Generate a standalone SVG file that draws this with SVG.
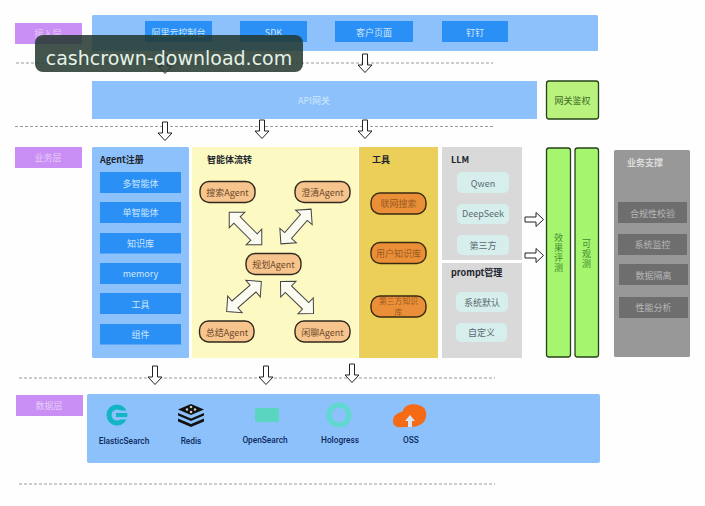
<svg xmlns="http://www.w3.org/2000/svg" width="705" height="506" viewBox="0 0 705 506">
<style>
text{font-family:"Noto Sans CJK SC","Noto Sans",sans-serif;font-size:9px;text-anchor:middle}
.panel{fill:#8cc1fb}
.btn{fill:#2a90f6}
.wt{fill:#cfe6fb}
.lay{fill:#c98ff5}
.layt{fill:#e6cdf8}
.dash{stroke:#9a9a9a;stroke-width:1;stroke-dasharray:3 2;fill:none}
.pill{fill:#f8c48e;stroke:#2e2a1e;stroke-width:1.4}
.pillt{fill:#6b4a2a}
.tool{fill:#ea8f38;stroke:#3a2a10;stroke-width:1.4}
.toolt{fill:#9a5a22}
.gray{fill:#d9d9d9}
.soft{fill:#d6efec}
.softt{fill:#5a6a70}
.grn{fill:#a6f56e;stroke:#26401a;stroke-width:1.3}
.grnt{fill:#3f8a2e;writing-mode:vertical-rl;letter-spacing:1px}
.dk{fill:#6e6e6e}
.dkt{fill:#b8b8b8}
.bold{font-weight:700;fill:#20242c;text-anchor:start}
.db{font-weight:500;font-size:8.300px;fill:#0c2a5c;font-family:Roboto,"Noto Sans",sans-serif}
.ar{fill:#fff;stroke:#222;stroke-width:1}
.dbl{fill:#fbfbf2;stroke:#444;stroke-width:1}
</style>
<defs>
<path id="down" d="M-2.5 0H2.500V11H7L0 18.500L-7 11H-2.500Z"/>
<path id="both" d="M-23 0L-12 -11V-4.500H12V-11L23 0L12 11V4.500H-12V11Z"/>
</defs>
<rect width="705" height="506" fill="#fefefe"/>

<g id="layer-access">
<rect class="lay" x="15" y="23" width="67" height="21"/>
<text class="layt" x="48" y="37">接入层</text>
</g>
<g id="access">
<rect class="panel" x="92" y="15" width="506" height="36" rx="1.500"/>
<g id="console"><rect class="btn" x="145" y="21" width="67" height="21"/><text class="wt" x="178.500" y="36">阿里云控制台</text></g>
<g id="sdk"><rect class="btn" x="240" y="21" width="67" height="21"/><text class="wt" x="273.500" y="36">SDK</text></g>
<g id="customer"><rect class="btn" x="335" y="21" width="78" height="21"/><text class="wt" x="374" y="36">客户页面</text></g>
<g id="dingtalk"><rect class="btn" x="442" y="21" width="66" height="21"/><text class="wt" x="475" y="36">钉钉</text></g>
</g>
<g id="gateway">
<rect class="panel" x="92" y="81" width="445" height="38"/>
<text class="wt" x="314" y="104">API网关</text>
</g>
<g id="auth">
<rect x="546.500" y="81" width="52" height="38" rx="2.500" fill="#b9f27c" stroke="#26401a" stroke-width="1.300"/>
<text x="572.500" y="104" fill="#3f6a2a">网关鉴权</text>
</g>

<g id="layer-business">
<rect class="lay" x="15" y="147" width="67" height="21"/>
<text class="layt" x="48" y="161">业务层</text>
</g>
<g id="agent-registry">
<rect class="panel" x="92" y="147" width="97" height="211" rx="1.500"/>
<text class="bold" x="100" y="163">Agent注册</text>
<g id="r1"><rect class="btn" x="100" y="172" width="81" height="21"/><text class="wt" x="140.500" y="187">多智能体</text></g>
<g id="r2"><rect class="btn" x="100" y="202" width="81" height="21"/><text class="wt" x="140.500" y="216">单智能体</text></g>
<g id="r3"><rect class="btn" x="100" y="233" width="81" height="20.500"/><text class="wt" x="140.500" y="247">知识库</text></g>
<g id="r4"><rect class="btn" x="100" y="263" width="81" height="21"/><text class="wt" x="140.500" y="277">memory</text></g>
<g id="r5"><rect class="btn" x="100" y="293" width="81" height="21"/><text class="wt" x="140.500" y="308">工具</text></g>
<g id="r6"><rect class="btn" x="100" y="324" width="81" height="20.500"/><text class="wt" x="140.500" y="338">组件</text></g>
</g>
<g id="flow">
<rect x="192" y="147" width="166" height="211" fill="#fdf9c2"/>
<text class="bold" x="207" y="163">智能体流转</text>
<g id="search"><rect class="pill" x="200" y="181.500" width="55" height="21" rx="9"/><text class="pillt" x="227.500" y="196">搜索Agent</text></g>
<g id="clarify"><rect class="pill" x="295" y="181.500" width="55" height="21" rx="9"/><text class="pillt" x="322.500" y="196">澄清Agent</text></g>
<g id="plan"><rect class="pill" x="246" y="253.500" width="55" height="21" rx="9"/><text class="pillt" x="273.500" y="268">规划Agent</text></g>
<g id="summary"><rect class="pill" x="199.500" y="321" width="54.500" height="21" rx="9"/><text class="pillt" x="227" y="335.500">总结Agent</text></g>
<g id="chat"><rect class="pill" x="295" y="321" width="55" height="21" rx="9"/><text class="pillt" x="322.500" y="335.500">闲聊Agent</text></g>
</g>
<g id="tools">
<rect x="359" y="147" width="79" height="211" fill="#ebcf58"/>
<text class="bold" x="372" y="163">工具</text>
<g id="t1"><rect class="tool" x="371" y="193" width="55" height="21" rx="9"/><text class="toolt" x="398.500" y="207">联网搜索</text></g>
<g id="t2"><rect class="tool" x="371" y="242.500" width="55" height="21" rx="9"/><text class="toolt" x="398.500" y="257">用户知识库</text></g>
<g id="t3"><rect class="tool" x="371" y="296" width="55" height="21" rx="9"/><text class="toolt" style="font-size:7.800px"><tspan x="398.500" y="304">第三方知识</tspan><tspan x="398.500" y="315.400">库</tspan></text></g>
</g>
<g id="llm">
<rect class="gray" x="442" y="147" width="80" height="113"/>
<text class="bold" x="451" y="163">LLM</text>
<g id="qwen"><rect class="soft" x="457" y="172" width="52" height="21" rx="5"/><text class="softt" x="483" y="187">Qwen</text></g>
<g id="deepseek"><rect class="soft" x="457" y="204" width="52" height="20" rx="5"/><text class="softt" x="483" y="217">DeepSeek</text></g>
<g id="third"><rect class="soft" x="457" y="235" width="52" height="20" rx="5"/><text class="softt" x="483" y="249">第三方</text></g>
</g>
<g id="prompt">
<rect class="gray" x="442" y="263" width="80" height="95"/>
<text class="bold" x="451" y="276">prompt管理</text>
<g id="default"><rect class="soft" x="456" y="292" width="52" height="20" rx="5"/><text class="softt" x="482" y="306">系统默认</text></g>
<g id="custom"><rect class="soft" x="456" y="323" width="51" height="19" rx="5"/><text class="softt" x="481.500" y="336">自定义</text></g>
</g>
<g id="eval">
<rect class="grn" x="546.500" y="148" width="24" height="209" rx="2.500"/>
<text class="grnt" x="558.500" y="253">效果评测</text>
</g>
<g id="observe">
<rect class="grn" x="575" y="148" width="23.500" height="209" rx="2.500"/>
<text class="grnt" x="586.500" y="254">可观测</text>
</g>
<g id="support">
<rect x="614" y="150" width="76" height="207" rx="1.500" fill="#989898"/>
<text x="627" y="166" style="text-anchor:start;font-weight:700" fill="#dcdcdc">业务支撑</text>
<g id="s1"><rect class="dk" x="618" y="202" width="69" height="21"/><text class="dkt" x="652.500" y="217">合规性校验</text></g>
<g id="s2"><rect class="dk" x="618" y="234" width="69" height="21"/><text class="dkt" x="652.500" y="248">系统监控</text></g>
<g id="s3"><rect class="dk" x="619" y="264" width="69" height="21"/><text class="dkt" x="653.500" y="279">数据隔离</text></g>
<g id="s4"><rect class="dk" x="619" y="297" width="69" height="21"/><text class="dkt" x="653.500" y="311">性能分析</text></g>
</g>

<g id="layer-data">
<rect class="lay" x="16" y="395" width="67" height="21"/>
<text class="layt" x="49" y="409">数据层</text>
</g>
<g id="data">
<rect class="panel" x="87" y="394" width="513" height="69" rx="2"/>
<g id="es">
<circle cx="117" cy="415" r="8" fill="none" stroke="#12b5c4" stroke-width="5"/>
<rect x="118" y="410.500" width="11" height="2.500" fill="#8cc1fb"/><rect x="118" y="417" width="11" height="2.500" fill="#8cc1fb"/>
<rect x="116" y="413" width="11" height="4" fill="#12b5c4"/>
<text class="db" x="124" y="444">ElasticSearch</text>
</g>
<g id="redis">
<path d="M191 404L204 409.500L191 415L178 409.500Z" fill="#111"/>
<path d="M178 413L191 418.500L204 413V415.500L191 421L178 415.500Z" fill="#111"/>
<path d="M178 418.500L191 424L204 418.500V421.500L191 427L178 421.500Z" fill="#111"/>
<circle cx="187" cy="409.500" r="1.300" fill="#ccc"/><circle cx="195" cy="409.500" r="1.300" fill="#ccc"/><circle cx="191" cy="407" r="1.300" fill="#ccc"/><circle cx="191" cy="412" r="1.300" fill="#ccc"/>
<text class="db" x="191" y="444">Redis</text>
</g>
<g id="opensearch">
<rect x="255" y="408" width="24" height="14" rx="2" fill="#5ad6c0"/>
<text class="db" x="265" y="443">OpenSearch</text>
</g>
<g id="hologres">
<circle cx="339" cy="415" r="10" fill="none" stroke="#5fd8cf" stroke-width="5"/>
<text class="db" x="340" y="443">Hologress</text>
</g>
<g id="oss">
<path d="M393 421C393 414 399 413 403 411C404 405 412 403 418 405C426 406 428 414 425 420C422 427 412 427 405 427C398 428 393 427 393 421Z" fill="#f56a14"/>
<path d="M410 415L415 421H412V427H408V421H405Z" fill="#d6e6f5"/>
<text class="db" x="411" y="443">OSS</text>
</g>
</g>

<g id="connectors">
<path class="dash" d="M16 63H493M15 126.500H493M19 378H495M19 484H495"/>
<g class="ar">
<use href="#down" x="165" y="55"/>
<use href="#down" x="365" y="54"/>
<use href="#down" x="165" y="122"/>
<use href="#down" x="262" y="120"/>
<use href="#down" x="365" y="120"/>
<use href="#down" x="155" y="366"/>
<use href="#down" x="266" y="366"/>
<use href="#down" x="352" y="364"/>
<use href="#down" transform="translate(525 219.500) rotate(-90)"/>
<use href="#down" transform="translate(525 255.500) rotate(-90)"/>
</g>
<g class="dbl">
<use href="#both" transform="translate(245.500 228.500) rotate(45)"/>
<use href="#both" transform="translate(296 226.500) rotate(-49)"/>
<use href="#both" transform="translate(244 296.500) rotate(-41)"/>
<use href="#both" transform="translate(297 297.500) rotate(44)"/>
</g>
</g>

<g id="watermark">
<rect x="35" y="35" width="268" height="37" rx="8" fill="#23382f" fill-opacity=".86"/>
<text x="169" y="64.500" style="font-family:'DejaVu Sans',sans-serif;font-size:19px" fill="#e4f2e8">cashcrown-download.com</text>
</g>
</svg>
